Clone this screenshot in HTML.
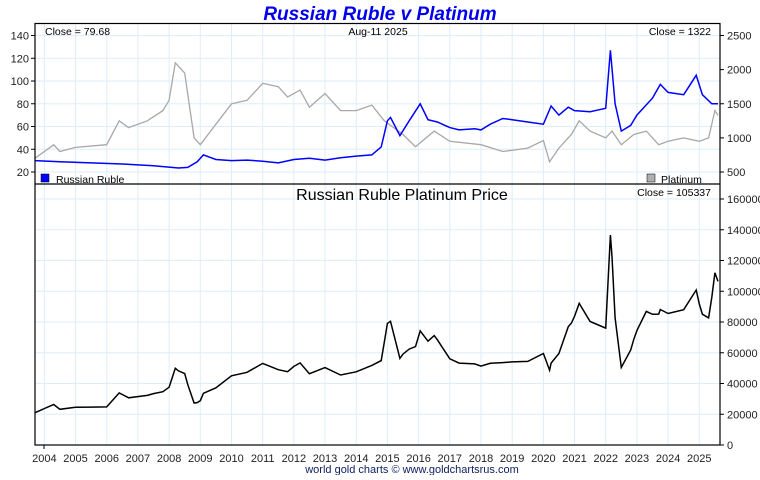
<!DOCTYPE html>
<html><head><meta charset="utf-8"><style>
body{margin:0;background:#fff;font-family:"Liberation Sans",sans-serif}
svg text{font-family:"Liberation Sans",sans-serif}
</style></head><body>
<svg id="c" width="760" height="475"></svg>
<script>
const years=[2004,2005,2006,2007,2008,2009,2010,2011,2012,2013,2014,2015,2016,2017,2018,2019,2020,2021,2022,2023,2024,2025];
const rubleT=[2003.7,2004.5,2005.5,2006.5,2007.5,2008.3,2008.6,2008.9,2009.1,2009.5,2010,2010.5,2011,2011.5,2012,2012.5,2013,2013.5,2014,2014.5,2014.8,2015.0,2015.1,2015.4,2015.7,2016.05,2016.3,2016.6,2017.0,2017.3,2017.8,2018.0,2018.3,2018.7,2019,2019.5,2020,2020.25,2020.5,2020.8,2021,2021.5,2022.0,2022.15,2022.3,2022.5,2022.8,2023,2023.5,2023.75,2024,2024.5,2024.9,2025.1,2025.4,2025.6];
const rubleV=[30,29,28,27,25.5,23.5,24,29,35,31,30,30.5,29.5,28,31,32,30.5,32.5,34,35,42,65,68,52,65,80,66,64,59,57,58,57,62,67,66,64,62,78,70,77,74,73,76,127,80,56,61,70,85,97,90,88,105,88,80,80];
const platT=[2003.7,2004.3,2004.5,2005,2006,2006.4,2006.7,2007.3,2007.8,2008.0,2008.2,2008.5,2008.8,2009,2009.5,2010,2010.5,2011,2011.5,2011.8,2012.2,2012.5,2013,2013.5,2014,2014.5,2014.9,2015.5,2015.9,2016.5,2017,2018,2018.7,2019.5,2020.0,2020.2,2020.5,2020.9,2021.15,2021.5,2022,2022.2,2022.5,2022.9,2023.3,2023.7,2024,2024.5,2025.0,2025.3,2025.5,2025.6];
const platV=[700,900,800,860,900,1250,1150,1250,1400,1550,2100,1950,1000,900,1200,1500,1550,1800,1750,1600,1700,1450,1650,1400,1400,1480,1250,1050,870,1100,950,900,800,850,960,650,850,1050,1250,1100,1000,1100,900,1050,1100,900,950,1000,950,1000,1400,1330];
const leftTicks=[20,40,60,80,100,120,140];
const rightTicks=[500,1000,1500,2000,2500];
const botTicks=[0,20000,40000,60000,80000,100000,120000,140000,160000];

const NS="http://www.w3.org/2000/svg",svg=document.getElementById('c');
function el(t,a,p){const e=document.createElementNS(NS,t);for(const k in a)e.setAttribute(k,a[k]);(p||svg).appendChild(e);return e;}
const X0=35,X1=718;
const x=t=>X0+(t-2003.7)*(X1-X0)/(2025.6-2003.7);
const yL=v=>172-(v-20)*(172-35.5)/120;
const yR=v=>172-(v-500)*(172-35.5)/2000;
const yB=v=>445-v*(445-199)/160000;
function interp(T,V,t){if(t<=T[0])return V[0];for(let i=1;i<T.length;i++)if(t<=T[i]){const f=(t-T[i-1])/(T[i]-T[i-1]);return V[i-1]+f*(V[i]-V[i-1]);}return V[V.length-1];}

// grid
years.forEach(yv=>{
  const g=el('line',{x1:x(yv),x2:x(yv),y1:24,y2:445,stroke:'#ddeef8','stroke-width':1});
  
  const t=el('text',{x:x(yv),y:462,'text-anchor':'middle','font-size':11,fill:'#222'});t.textContent=yv;
  
});
leftTicks.forEach(v=>{
  el('line',{x1:X0,x2:720,y1:yL(v),y2:yL(v),stroke:'#ddeef8'});
  el('line',{x1:31,x2:35,y1:yL(v),y2:yL(v),stroke:'#000'});
  const t=el('text',{x:29,y:yL(v)+4,'text-anchor':'end','font-size':11,fill:'#222'});t.textContent=v;
  
});
rightTicks.forEach(v=>{
  el('line',{x1:720,x2:724,y1:yR(v),y2:yR(v),stroke:'#000'});
  const t=el('text',{x:727,y:yR(v)+4,'font-size':11,fill:'#222'});t.textContent=v;
  
});
botTicks.forEach(v=>{
  el('line',{x1:X0,x2:720,y1:yB(v),y2:yB(v),stroke:'#ddeef8'});
  el('line',{x1:720,x2:724,y1:yB(v),y2:yB(v),stroke:'#000'});
  const t=el('text',{x:727,y:yB(v)+4,'font-size':11,fill:'#222'});t.textContent=v;
  
});

// series
function path(T,V,fy,col,w,name){
  const p=el('polyline',{points:T.map((t,i)=>x(t).toFixed(1)+','+fy(V[i]).toFixed(1)).join(' '),fill:'none',stroke:col,'stroke-width':w});
  
}
path(platT,platV,yR,'#a8a8a8',1.3,'platinum-line');
path(rubleT,rubleV,yL,'#0000ff',1.5,'ruble-line');
const allT=[...new Set([...rubleT,...platT])].sort((a,b)=>a-b);
const prodV=allT.map(t=>interp(rubleT,rubleV,t)*interp(platT,platV,t));
path(allT,prodV,yB,'#000',1.5,'ruble-platinum-line');

// frames
el('rect',{x:35,y:23.5,width:685,height:421.5,fill:'none',stroke:'#000','stroke-width':1.2});
el('line',{x1:35,x2:720,y1:184,y2:184,stroke:'#000','stroke-width':1.2});
el('line',{x1:44,x2:44,y1:445,y2:449,stroke:'#000'});

function txt(s,a,name){const t=el('text',a);t.textContent=s;return t;}
txt('Russian Ruble v Platinum',{x:380,y:20,'text-anchor':'middle','font-size':19,'font-weight':'bold','font-style':'italic',fill:'#0000ee'},'chart-title');
txt('Close = 79.68',{x:45,y:35,'font-size':10.5,fill:'#000'},'ruble-close');
txt('Aug-11  2025',{x:378,y:35,'text-anchor':'middle','font-size':10.5,fill:'#000'},'date-label');
txt('Close = 1322',{x:711,y:35,'text-anchor':'end','font-size':10.5,fill:'#000'},'platinum-close');
el('rect',{x:41,y:174,width:8,height:8,fill:'#0000ff',stroke:'#000','stroke-width':0.5});
txt('Russian Ruble',{x:56,y:183,'font-size':10.5,fill:'#000'},'legend-ruble');
el('rect',{x:647,y:174,width:8,height:8,fill:'#b0b0b0',stroke:'#000','stroke-width':0.5});
txt('Platinum',{x:661,y:183,'font-size':10.5,fill:'#000'},'legend-platinum');
txt('Russian Ruble Platinum Price',{x:402,y:200,'text-anchor':'middle','font-size':16,fill:'#000'},'bottom-title');
txt('Close = 105337',{x:711,y:196,'text-anchor':'end','font-size':10.5,fill:'#000'},'bottom-close');
txt('world gold charts © www.goldchartsrus.com',{x:412,y:473,'text-anchor':'middle','font-size':11,fill:'#102060'},'footer');
</script>
</body></html>
